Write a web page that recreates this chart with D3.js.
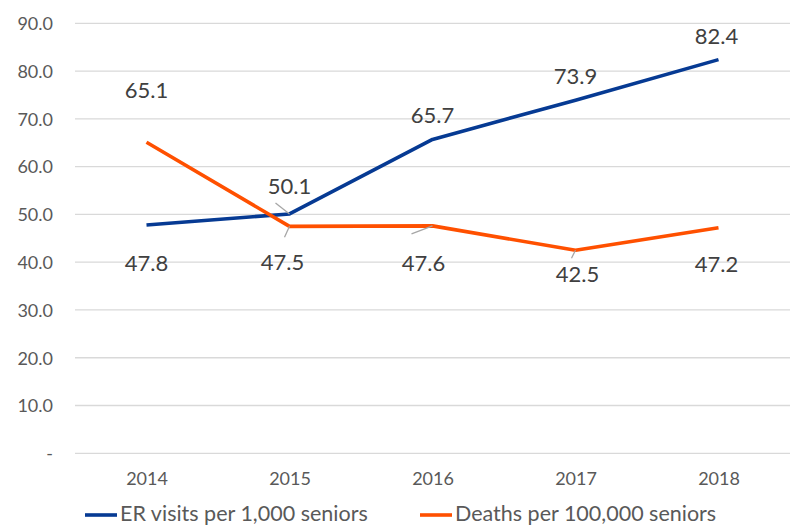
<!DOCTYPE html>
<html><head><meta charset="utf-8">
<script src="https://cdn.jsdelivr.net/npm/d3@7"></script>
<style>body{margin:0;background:#fff;} text{font-family:Lato,"Open Sans",sans-serif;}</style>
</head><body>
<svg id="c" width="793" height="527"></svg>
<script>
const years = ["2014","2015","2016","2017","2018"];
const erVisits = [47.8, 50.1, 65.7, 73.9, 82.4];
const deaths = [65.1, 47.5, 47.6, 42.5, 47.2];
const yTicks = [0,10,20,30,40,50,60,70,80,90];
const seriesNames = ["ER visits per 1,000 seniors","Deaths per 100,000 seniors"];
const colors = ["#063a93","#ff5000"];
// label offsets [dx, dy] relative to point
const erLabelPos = [[0,38],[0,-28],[0,-24],[0,-24],[-2,-24]];
const deLabelPos = [[0,-52],[-7,36],[-9,37],[2,24],[-2,36]];

const svg = d3.select("#c");
const x = d3.scalePoint().domain(years).range([75,790]).padding(0.5);
const y = d3.scaleLinear().domain([0,90]).range([453.3,23.3]);

// gridlines
svg.append("g").selectAll("line").data(yTicks).join("line")
  .attr("x1",75).attr("x2",790).attr("y1",d=>y(d)).attr("y2",d=>y(d))
  .attr("stroke","#d9d9d9").attr("stroke-width",1.3);

// y axis labels
const yAxis = d3.axisLeft(y).tickValues(yTicks).tickSize(0).tickPadding(0)
  .tickFormat(d=> d===0 ? "-" : d.toFixed(1));
const gy = svg.append("g").attr("transform","translate(53,0)").call(yAxis);
gy.select(".domain").remove();
gy.selectAll("text").attr("fill","#595959").attr("dy","0.35em").style("font-size","18px").style("font-family","Lato,'Open Sans',sans-serif");

// x axis labels
const xAxis = d3.axisBottom(x).tickSize(0).tickPadding(0);
const gx = svg.append("g").attr("transform","translate(0,479)").call(xAxis);
gx.select(".domain").remove();
gx.selectAll("text").attr("fill","#595959").attr("dy","0.35em").style("font-size","18px").style("font-family","Lato,'Open Sans',sans-serif");

const line = d3.line().x((d,i)=>x(years[i])).y(d=>y(d));
[erVisits, deaths].forEach((s,k)=>{
  svg.append("path").datum(s).attr("d",line).attr("fill","none")
    .attr("stroke",colors[k]).attr("stroke-width",3.6).attr("stroke-linejoin","round");
});

// leader lines
const leaders = [
  {s:erVisits,i:1,x2:-14,y2:-11},
  {s:deaths,i:1,x2:-5,y2:11},
  {s:deaths,i:2,x2:-21,y2:8},
  {s:deaths,i:3,x2:-4,y2:8}
];
svg.append("g").selectAll("line").data(leaders).join("line")
  .attr("x1",d=>x(years[d.i])).attr("y1",d=>y(d.s[d.i]))
  .attr("x2",d=>x(years[d.i])+d.x2).attr("y2",d=>y(d.s[d.i])+d.y2)
  .attr("stroke","#a6a6a6").attr("stroke-width",1.3);

// data labels
function labels(s,pos){
  svg.append("g").selectAll("text").data(s).join("text")
    .attr("x",(d,i)=>x(years[i])+pos[i][0])
    .attr("y",(d,i)=>y(d)+pos[i][1])
    .attr("text-anchor","middle").attr("dy","0.36em")
    .attr("fill","#404040").style("font-size","22px")
    .text(d=>d.toFixed(1));
}
labels(erVisits, erLabelPos);
labels(deaths, deLabelPos);

// legend
const lg = svg.append("g");
const legX = [85,420];
seriesNames.forEach((n,k)=>{
  lg.append("line").attr("x1",legX[k]).attr("x2",legX[k]+32).attr("y1",515).attr("y2",515)
    .attr("stroke",colors[k]).attr("stroke-width",3.6);
  lg.append("text").attr("x",legX[k]+35).attr("y",521)
    .attr("fill","#595959").style("font-size","21.5px").text(n);
});
</script>
</body></html>
